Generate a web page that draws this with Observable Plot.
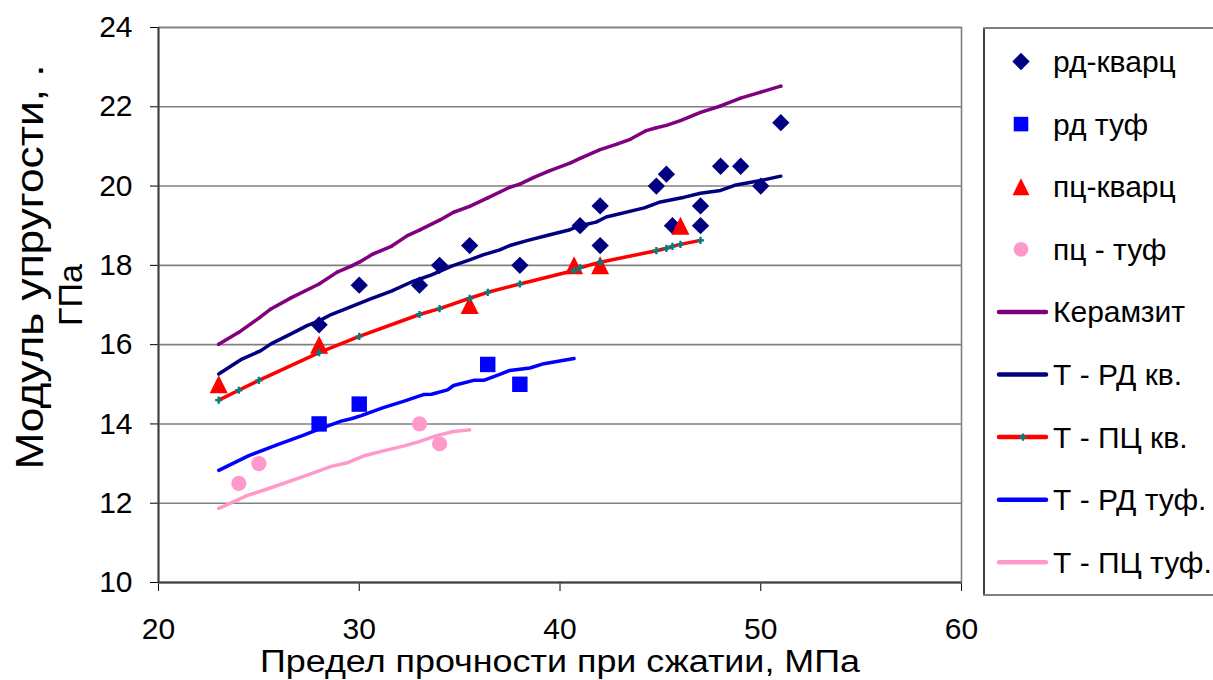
<!DOCTYPE html>
<html><head><meta charset="utf-8">
<script src="https://cdn.jsdelivr.net/npm/d3@7"></script>
<script src="https://cdn.jsdelivr.net/npm/@observablehq/plot@0.6"></script>
<style>
html,body{margin:0;padding:0;background:#fff;overflow:hidden;}
#wrap{position:relative;width:1213px;height:680px;font-family:"Liberation Sans",Arial,sans-serif;}
#legend{position:absolute;left:983px;top:27px;}
</style></head><body><div id="wrap"></div>
<script>
// ---- data ----
const xTicks = [20, 30, 40, 50, 60];
const yTicks = [10, 12, 14, 16, 18, 20, 22, 24];
const xTitle = "Предел прочности при сжатии, МПа";
const yTitleLines = ["Модуль упругости, .", "ГПа"];

const seriesNames = ["рд-кварц", "рд туф", "пц-кварц", "пц - туф", "Керамзит", "Т - РД кв.", "Т - ПЦ кв.", "Т - РД туф.", "Т - ПЦ туф."];

const rdKvX = [28, 30, 33, 34, 35.5, 38, 41, 42, 42, 44.8, 45.3, 45.6, 47, 47, 48, 49, 50, 51];
const rdKvY = [16.5, 17.5, 17.5, 18, 18.5, 18, 19, 19.5, 18.5, 20, 20.3, 19, 19.5, 19, 20.5, 20.5, 20, 21.6];

const rdTufX = [28, 30, 36.4, 38];
const rdTufY = [14, 14.5, 15.5, 15];

const pcKvX = [23, 28, 35.5, 40.7, 42, 46];
const pcKvY = [15, 16, 17, 18, 18, 19];

const pcTufX = [24, 25, 33, 34];
const pcTufY = [12.5, 13, 14, 13.5];

const keramX = [23, 24, 25, 25.6, 26.6, 28, 28.9, 29.6, 30, 30.7, 31.6, 32.4, 33, 34, 34.7, 35.5, 36.4, 37.5, 38, 38.7, 39.5, 40.5, 41, 42, 42.8, 43.5, 44.3, 44.8, 45.3, 46, 47, 48, 49, 50, 51];
const keramY = [16.01, 16.31, 16.67, 16.9, 17.18, 17.53, 17.83, 17.98, 18.08, 18.29, 18.48, 18.75, 18.89, 19.14, 19.34, 19.49, 19.7, 19.97, 20.05, 20.22, 20.39, 20.58, 20.7, 20.92, 21.05, 21.18, 21.4, 21.47, 21.53, 21.65, 21.86, 22.02, 22.22, 22.37, 22.52];

const tRdKvX = [23, 24.1, 25.1, 25.6, 26.6, 27.4, 28, 28.6, 29.6, 30.6, 31.6, 32.6, 33.6, 34.6, 35.5, 36.2, 37, 37.5, 38.4, 39.4, 40.5, 41, 41.8, 42.3, 44.2, 45, 46.2, 47, 48, 48.7, 50, 51];
const tRdKvY = [15.26, 15.62, 15.85, 16.02, 16.27, 16.48, 16.6, 16.76, 16.96, 17.16, 17.35, 17.58, 17.76, 17.98, 18.14, 18.27, 18.39, 18.5, 18.63, 18.76, 18.9, 19.0, 19.09, 19.22, 19.45, 19.6, 19.72, 19.82, 19.89, 20.02, 20.14, 20.25];

const tPcKvX = [23, 24, 25, 28, 30, 33, 34, 35.5, 36.4, 38, 40.7, 41, 42, 44.8, 45.3, 45.6, 46, 47];
const tPcKvY = [14.6, 14.85, 15.1, 15.8, 16.21, 16.76, 16.91, 17.17, 17.32, 17.53, 17.87, 17.94, 18.08, 18.37, 18.43, 18.48, 18.53, 18.63];

const tRdTufX = [23, 24.5, 25.9, 27.2, 28, 29.1, 29.6, 30.1, 31.2, 32.2, 33.2, 33.6, 34.4, 34.7, 35.7, 36.2, 37, 37.5, 38.5, 39.2, 40.7];
const tRdTufY = [12.83, 13.2, 13.47, 13.71, 13.87, 14.07, 14.13, 14.21, 14.41, 14.57, 14.74, 14.75, 14.86, 14.97, 15.1, 15.1, 15.25, 15.35, 15.41, 15.52, 15.65];

const tPcTufX = [23, 23.9, 24.4, 25.6, 27.2, 28.6, 29.4, 30.2, 31.2, 32.2, 32.9, 33.9, 34.7, 35.5];
const tPcTufY = [11.87, 12.07, 12.19, 12.39, 12.67, 12.93, 13.02, 13.19, 13.32, 13.44, 13.54, 13.71, 13.81, 13.85];

// ---- helpers ----
const pts = (xs, ys) => xs.map((x, i) => ({x, y: ys[i]}));
const FONT = '"Liberation Sans", Arial, sans-serif';

// custom tall triangle (as in the original)
const tallTriangle = {
  draw(ctx, size) {
    const a = Math.sqrt(size) * 0.635;
    ctx.moveTo(0, -a);
    ctx.lineTo(a, a);
    ctx.lineTo(-a, a);
    ctx.closePath();
  }
};

const C = {navy: "#000080", blue: "#0000FF", red: "#FF0000", pink: "#FF99CC", purple: "#800080", teal: "#008080"};
const LW = 3.5;

const chart = Plot.plot({
  width: 1213, height: 680,
  marginLeft: 158, marginRight: 252, marginTop: 27, marginBottom: 98,
  style: {fontFamily: FONT, fontSize: "30px", color: "#000", background: "#fff", overflow: "visible"},
  x: {domain: [20, 60], ticks: xTicks, tickSize: 9, tickPadding: 26, label: null},
  y: {domain: [10, 24], ticks: yTicks, tickSize: 8, tickPadding: 18, label: null},
  marks: [
    Plot.ruleY(yTicks, {stroke: "#808080", strokeWidth: 1.6}),
    Plot.frame({stroke: "#808080", strokeWidth: 1.6}),
    Plot.ruleX([20], {stroke: "#404040", strokeWidth: 2}),
    Plot.ruleY([10], {stroke: "#404040", strokeWidth: 2}),
    // scatter series
    Plot.dot(pts(rdKvX, rdKvY), {x: "x", y: "y", symbol: "diamond2", r: 7.8, fill: C.navy, stroke: "none"}),
    Plot.dot(pts(rdTufX, rdTufY), {x: "x", y: "y", symbol: "square", r: 8.7, fill: C.blue, stroke: "none"}),
    Plot.dot(pts(pcKvX, pcKvY), {x: "x", y: "y", symbol: tallTriangle, r: 8, fill: C.red, stroke: "none"}),
    Plot.dot(pts(pcTufX, pcTufY), {x: "x", y: "y", symbol: "circle", r: 7.6, fill: C.pink, stroke: "none"}),
    // trend lines
    Plot.line(pts(keramX, keramY), {x: "x", y: "y", stroke: C.purple, strokeWidth: LW}),
    Plot.dot(pts(keramX, keramY), {x: "x", y: "y", symbol: "square", r: 1.6, fill: C.purple, stroke: "none"}),
    Plot.line(pts(tRdKvX, tRdKvY), {x: "x", y: "y", stroke: C.navy, strokeWidth: LW}),
    Plot.line(pts(tPcKvX, tPcKvY), {x: "x", y: "y", stroke: C.red, strokeWidth: LW}),
    Plot.dot(pts(tPcKvX, tPcKvY), {x: "x", y: "y", symbol: "cross", r: 3, fill: C.teal, stroke: "none"}),
    Plot.line(pts(tRdTufX, tRdTufY), {x: "x", y: "y", stroke: C.blue, strokeWidth: LW}),
    Plot.line(pts(tPcTufX, tPcTufY), {x: "x", y: "y", stroke: C.pink, strokeWidth: LW}),
    // axis titles
    Plot.text([xTitle], {text: d => d, frameAnchor: "bottom", textAnchor: "middle", lineAnchor: "middle", dy: 80, fontSize: 31, fill: "#000"}),
    Plot.text([yTitleLines[0]], {text: d => d, frameAnchor: "left", textAnchor: "middle", lineAnchor: "middle", dx: -128, dy: -38, rotate: -90, fontSize: 38, fill: "#000"}),
    Plot.text([yTitleLines[1]], {text: d => d, frameAnchor: "left", textAnchor: "middle", lineAnchor: "middle", dx: -87, dy: -10, rotate: -90, fontSize: 34, fill: "#000"})
  ]
});

// the original titles are rendered wider than the font's natural width
d3.select(chart).selectAll("text").each(function () {
  const t = this.textContent;
  if (t === xTitle) d3.select(this).attr("textLength", 600).attr("lengthAdjust", "spacingAndGlyphs");
  if (t === yTitleLines[0]) d3.select(this).attr("textLength", 405).attr("lengthAdjust", "spacingAndGlyphs");
});

const wrap = document.getElementById("wrap");
wrap.appendChild(chart);

// ---- legend ----
const legendSpec = [
  {kind: "dot", symbol: d3.symbolDiamond2, r: 7.8, color: C.navy},
  {kind: "dot", symbol: d3.symbolSquare, r: 8.2, color: C.blue},
  {kind: "dot", symbol: tallTriangle, r: 7.5, color: C.red},
  {kind: "dot", symbol: d3.symbolCircle, r: 7.4, color: C.pink},
  {kind: "line", color: C.purple, marker: d3.symbolSquare, mr: 1.8, mcolor: C.purple},
  {kind: "line", color: C.navy},
  {kind: "line", color: C.red, marker: d3.symbolCross, mr: 3, mcolor: C.teal},
  {kind: "line", color: C.blue},
  {kind: "line", color: C.pink}
];
const lg = d3.create("svg").attr("id", "legend").attr("width", 232).attr("height", 571)
  .style("font-family", FONT).style("font-size", "30px");
lg.append("line").attr("x1", 1).attr("x2", 1).attr("y1", 0).attr("y2", 569).attr("stroke", "#404040").attr("stroke-width", 2);
lg.append("line").attr("x1", 0).attr("x2", 232).attr("y1", 1).attr("y2", 1).attr("stroke", "#808080").attr("stroke-width", 2);
lg.append("line").attr("x1", 0).attr("x2", 232).attr("y1", 568).attr("y2", 568).attr("stroke", "#808080").attr("stroke-width", 2);
legendSpec.forEach((s, i) => {
  const cy = 34.5 + i * 62.6;
  const g = lg.append("g");
  if (s.kind === "dot") {
    g.append("path").attr("transform", `translate(38,${cy})`)
      .attr("d", d3.symbol(s.symbol, Math.PI * s.r * s.r)()).attr("fill", s.color);
  } else {
    g.append("line").attr("x1", 16).attr("x2", 63).attr("y1", cy).attr("y2", cy)
      .attr("stroke", s.color).attr("stroke-width", 4.5).attr("stroke-linecap", "round");
    if (s.marker) g.append("path").attr("transform", `translate(40,${cy})`)
      .attr("d", d3.symbol(s.marker, Math.PI * s.mr * s.mr)()).attr("fill", s.mcolor);
  }
  g.append("text").attr("x", 70).attr("y", cy).attr("dy", "0.35em").attr("fill", "#000").text(seriesNames[i]);
});
wrap.appendChild(lg.node());
</script>
</body></html>
